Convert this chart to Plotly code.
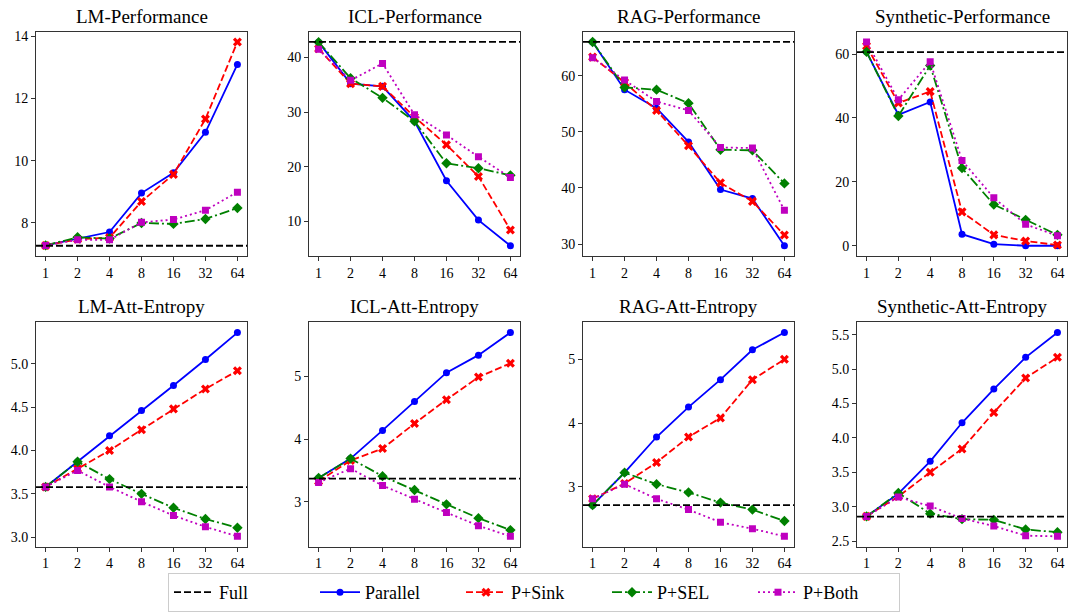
import plotly.graph_objects as go

W, H = 1068, 615

x_labels = ["1", "2", "4", "8", "16", "32", "64"]

titles = ["LM-Performance", "ICL-Performance", "RAG-Performance", "Synthetic-Performance",
          "LM-Att-Entropy", "ICL-Att-Entropy", "RAG-Att-Entropy", "Synthetic-Att-Entropy"]

full_vals = [7.27, 42.84, 66.0, 60.6, 3.577, 3.37, 2.71, 2.856]

parallel = [
    [7.28, 7.50, 7.71, 8.96, 9.61, 10.91, 13.09],
    [42.8, 35.2, 34.7, 28.3, 17.4, 10.2, 5.5],
    [66.0, 57.5, 54.2, 48.2, 39.7, 38.1, 29.7],
    [60.7, 41.0, 45.0, 3.6, 0.5, 0.0, 0.0],
    [3.58, 3.87, 4.17, 4.46, 4.75, 5.05, 5.36],
    [3.38, 3.69, 4.14, 4.60, 5.06, 5.34, 5.70],
    [2.71, 3.22, 3.78, 4.25, 4.68, 5.15, 5.42],
    [2.86, 3.19, 3.66, 4.22, 4.71, 5.17, 5.53],
]
p_sink = [
    [7.28, 7.48, 7.53, 8.69, 9.56, 11.34, 13.81],
    [41.6, 35.2, 34.7, 29.1, 24.0, 18.2, 8.4],
    [63.3, 58.8, 53.8, 47.5, 40.9, 37.6, 31.6],
    [62.5, 44.7, 48.3, 10.6, 3.4, 1.5, 0.2],
    [3.58, 3.79, 4.00, 4.24, 4.48, 4.71, 4.92],
    [3.33, 3.66, 3.85, 4.25, 4.63, 4.99, 5.21],
    [2.81, 3.05, 3.38, 3.78, 4.08, 4.68, 5.00],
    [2.86, 3.15, 3.50, 3.84, 4.37, 4.87, 5.17],
]
p_sel = [
    [7.28, 7.54, 7.50, 8.00, 7.97, 8.13, 8.48],
    [42.8, 36.2, 32.6, 28.3, 20.6, 19.7, 18.4],
    [66.0, 57.9, 57.5, 55.1, 46.8, 46.7, 40.8],
    [60.7, 40.6, 56.4, 24.3, 12.9, 8.1, 3.4],
    [3.58, 3.87, 3.67, 3.50, 3.34, 3.21, 3.11],
    [3.38, 3.69, 3.41, 3.19, 2.96, 2.74, 2.55],
    [2.71, 3.22, 3.04, 2.91, 2.75, 2.64, 2.46],
    [2.86, 3.20, 2.90, 2.82, 2.81, 2.67, 2.63],
]
p_both = [
    [7.28, 7.46, 7.46, 8.02, 8.11, 8.41, 8.99],
    [41.5, 35.8, 38.9, 29.5, 25.8, 21.8, 18.0],
    [63.2, 59.2, 55.4, 53.8, 47.2, 47.1, 36.0],
    [63.8, 45.7, 57.6, 26.7, 15.0, 6.7, 3.1],
    [3.58, 3.77, 3.58, 3.41, 3.25, 3.12, 3.01],
    [3.31, 3.53, 3.26, 3.04, 2.83, 2.62, 2.45],
    [2.81, 3.04, 2.81, 2.64, 2.44, 2.34, 2.22],
    [2.86, 3.14, 3.01, 2.83, 2.72, 2.58, 2.57],
]

y_ticks = [
    [8, 10, 12, 14],
    [10, 20, 30, 40],
    [30, 40, 50, 60],
    [0, 20, 40, 60],
    [3.0, 3.5, 4.0, 4.5, 5.0],
    [3, 4, 5],
    [3, 4, 5],
    [2.5, 3.0, 3.5, 4.0, 4.5, 5.0, 5.5],
]
y_tick_fmt = ["d", "d", "d", "d", ".1f", "d", "d", ".1f"]

series = [
    ("Parallel", parallel, "#0000ff", "solid", "circle", 7),
    ("P+Sink", p_sink, "#ff0000", "7px,3px", "x", 8),
    ("P+SEL", p_sel, "#008000", "10px,3px,2px,3px", "diamond", 8),
    ("P+Both", p_both, "#bf00bf", "2px,3px", "square", 7),
]

FONT = "Liberation Serif"

# pixel layout of panels
x_px = [(36, 247), (309, 520), (583, 794), (857, 1067)]
y_px = [(29, 255), (322, 548)]

fig = go.Figure()
layout = {}
for i in range(8):
    r, c = divmod(i, 4)
    n = i + 1
    xa = "xaxis" if n == 1 else f"xaxis{n}"
    ya = "yaxis" if n == 1 else f"yaxis{n}"
    xr = "x" if n == 1 else f"x{n}"
    yr = "y" if n == 1 else f"y{n}"
    x0, x1 = x_px[c]
    y0, y1 = y_px[r]
    allv = [full_vals[i]]
    for _, d, *_ in series:
        allv += d[i]
    lo, hi = min(allv), max(allv)
    pad = (hi - lo) * 0.05
    layout[xa] = dict(
        domain=[x0 / W, x1 / W], anchor=yr, type="category",
        categoryorder="array", categoryarray=x_labels,
        range=[-0.3, 6.3], showline=True, mirror=True, linecolor="#333",
        linewidth=1, ticks="outside", ticklen=4, tickcolor="#333",
        showgrid=False, zeroline=False,
        tickfont=dict(family=FONT, size=14, color="black"),
    )
    layout[ya] = dict(
        domain=[1 - y1 / H, 1 - y0 / H], anchor=xr,
        range=[lo - pad, hi + pad], showline=True, mirror=True,
        linecolor="#333", linewidth=1, ticks="outside", ticklen=4,
        tickcolor="#333", showgrid=False, zeroline=False,
        tickmode="array", tickvals=y_ticks[i],
        ticktext=[format(v, y_tick_fmt[i]) for v in y_ticks[i]],
        tickfont=dict(family=FONT, size=14, color="black"),
    )
    fig.add_shape(type="line", xref=f"{xr} domain", yref=yr, x0=0, x1=1,
                  y0=full_vals[i], y1=full_vals[i],
                  line=dict(color="black", width=1.8, dash="7px,3px"))
    for name, d, col, dash, sym, sz in series:
        fig.add_trace(go.Scatter(
            x=x_labels, y=d[i], mode="lines+markers", name=name,
            xaxis=xr, yaxis=yr, showlegend=(i == 0), legendgroup=name,
            line=dict(color=col, width=1.8, dash=dash),
            marker=dict(symbol=sym, size=sz, color=col, line=dict(width=0)),
        ))
    fig.add_annotation(
        text=titles[i], xref="paper", yref="paper",
        x=(x0 + x1) / 2 / W, y=1 - (y0 - 3) / H, xanchor="center",
        yanchor="bottom", showarrow=False,
        font=dict(family=FONT, size=19, color="black"),
    )

# legend-only entry for the Full reference line
fig.add_trace(go.Scatter(
    x=[None], y=[None], mode="lines", name="Full", legendrank=1,
    line=dict(color="black", width=1.8, dash="7px,3px"),
))
for tr in fig.data[:-1]:
    tr.legendrank = 2 + ["Parallel", "P+Sink", "P+SEL", "P+Both"].index(tr.name)

fig.update_layout(
    **layout,
    width=W, height=H,
    margin=dict(l=0, r=0, t=0, b=0),
    paper_bgcolor="white", plot_bgcolor="white",
    font=dict(family=FONT, color="black"),
    legend=dict(
        orientation="h", x=0.5, xanchor="center", y=1 / H, yanchor="bottom",
        font=dict(family=FONT, size=18, color="black"),
        bordercolor="#cccccc", borderwidth=1, bgcolor="white",
        itemwidth=40, entrywidth=91, traceorder="normal",
    ),
)

fig.write_html("out.html")
